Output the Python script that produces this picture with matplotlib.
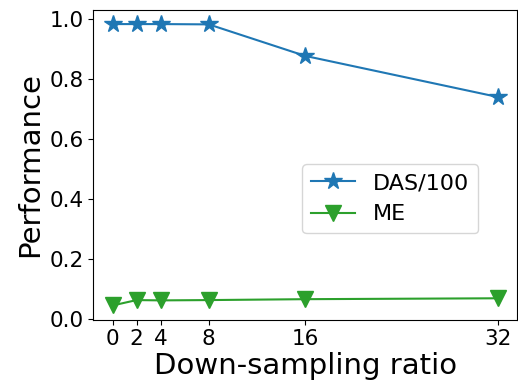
import matplotlib
matplotlib.use("Agg")
import matplotlib.pyplot as plt

ratios = [0, 2, 4, 8, 16, 32]
das_scaled = [0.983, 0.983, 0.983, 0.982, 0.877, 0.740]
me = [0.045, 0.063, 0.062, 0.063, 0.066, 0.069]
xtick_labels = ["0", "2", "4", "8", "16", "32"]

fig, ax = plt.subplots(figsize=(5.18, 3.85), dpi=100)
ax.plot(ratios, das_scaled, color="#1f77b4", marker="*", markersize=13, label="DAS/100")
ax.plot(ratios, me, color="#2ca02c", marker="v", markersize=11, label="ME")

ax.set_xticks(ratios)
ax.set_xticklabels(xtick_labels)
ax.tick_params(axis="both", labelsize=15.5)
ax.set_xlabel("Down-sampling ratio", fontsize=21, labelpad=2)
ax.set_ylabel("Performance", fontsize=21)
ax.legend(fontsize=16, loc="center right", bbox_to_anchor=(0.935, 0.39))

fig.subplots_adjust(left=0.18, right=0.998, top=0.974, bottom=0.17)
fig.savefig("out.png", dpi=100)
